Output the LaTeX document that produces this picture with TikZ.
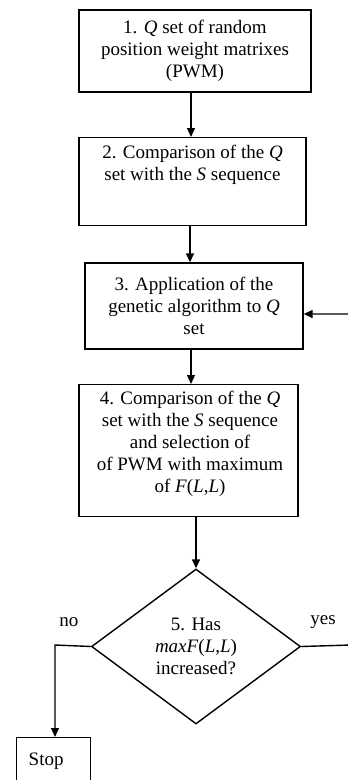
\documentclass[tikz,border=0pt]{standalone}
\usepackage{fontspec}
\setmainfont{Liberation Serif}
\usetikzlibrary{shapes.geometric,arrows.meta}
\begin{document}
\begin{tikzpicture}[x=1pt,y=-1pt,
  every node/.style={font=\fontsize{19}{22}\selectfont, inner sep=0pt},
  box/.style={draw, line width=1.4pt, align=center},
  arr/.style={draw, line width=1.4pt, -{Triangle[length=9pt,width=8pt]}},
  ln/.style={draw, line width=1.4pt}]
\useasboundingbox (0,0) rectangle (348,780);
\clip (0,0) rectangle (348,780);
\node[box, minimum width=232, minimum height=82] (b1) at (195,51)
  {1. \textit{Q} set of random\\position weight matrixes\\(PWM)};
\node[box, minimum width=227, minimum height=88, anchor=north] (b2) at (192.5,137) {};
\node[anchor=north, align=center] (t2) at (192.5,145)
  {2. Comparison of the \textit{Q}\\set with the \textit{S} sequence};
\node[box, minimum width=218, minimum height=86] (b3) at (194,306)
  {3. Application of the\\genetic algorithm to \textit{Q}\\set};
\node[box, minimum width=219, minimum height=132, anchor=north] (b4) at (188.5,384) {};
\node[anchor=north, align=center] (t4) at (190,391)
  {4. Comparison of the \textit{Q}\\set with the \textit{S} sequence\\and selection of\\of PWM with maximum\\of \textit{F}(\textit{L},\textit{L})};
\node[box, diamond, minimum width=209, minimum height=155, aspect=1.35] (d5) at (196,646.5) {};
\node[align=center] (t5) at (196,646) {5. Has\\\textit{maxF}(\textit{L},\textit{L})\\increased?};
\node[box, minimum width=74, minimum height=48, anchor=north west, text width=50, align=left] (stop) at (16,737) {Stop};
\node (no) at (69,622) {no};
\node (yes) at (323,622) {yes};
\coordinate (c1) at (55,645);
\coordinate (c2) at (351,645);
\coordinate (c3) at (351,314);
\draw[arr] (b1.south -| 191,0) -- (b2.north -| 191,0);
\draw[arr] (b2.south -| 190,0) -- (b3.north -| 190,0);
\draw[arr] (b3.south -| 191,0) -- (b4.north -| 191,0);
\draw[arr] (b4.south -| d5.north) -- (d5.north);
\draw[arr] (d5.west) -- (c1) -- (stop.north -| c1);
\draw[arr] (d5.east) -- (c2) -- (c3) -- (b3.east |- c3);
\end{tikzpicture}
\end{document}
